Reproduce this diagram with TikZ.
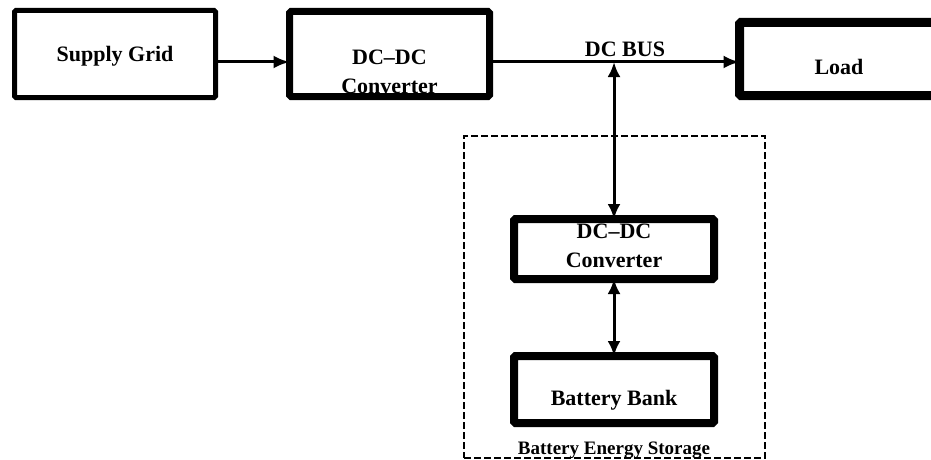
\documentclass[tikz,border=0pt]{standalone}
\usepackage{fontspec}
\setmainfont{Liberation Serif}
\usetikzlibrary{arrows.meta,calc}
\begin{document}
\begin{tikzpicture}[x=1pt,y=-1pt,
  boxA/.style={draw,line width=#1,rounded corners=1.5pt,inner sep=0pt,outer sep=0pt},
  lbl/.style={font=\bfseries\fontsize{22}{29}\selectfont,align=center,inner sep=0pt},
  arr/.style={line width=3pt,-{Latex[length=16pt,width=13pt]}},
  darr/.style={line width=3pt,{Latex[length=15pt,width=13pt]}-{Latex[length=15pt,width=13pt]}},
  dashbox/.style={draw,line width=2pt,dash pattern=on 7pt off 3pt}]
\clip (0,0) rectangle (931,460);
\fill[white] (0,0) rectangle (931,460);
% dashed storage frame
\node[dashbox,minimum width=301pt,minimum height=322pt,inner sep=0pt] (bes) at (614.5,297) {};
% boxes
\node[boxA=5pt,minimum width=201pt,minimum height=87pt] (sg) at (115,54) {};
\node[boxA=7pt,minimum width=200pt,minimum height=85pt] (dc1) at (389.5,54) {};
\node[boxA=9pt,minimum width=200pt,minimum height=73pt] (ld) at (839.5,59) {};
\node[boxA=8pt,minimum width=200pt,minimum height=60pt] (dc2) at (614,249) {};
\node[boxA=8pt,minimum width=200pt,minimum height=67pt] (bb) at (614,389.5) {};
% texts
\node[lbl] (tsg) at (115,56) {Supply Grid};
\node[lbl] (tdc1) at (389.5,72) {DC--DC\\Converter};
\node[lbl] (tld) at (839,67) {Load};
\node[lbl] (tdc2) at (614,246) {DC--DC\\Converter};
\node[lbl] (tbb) at (614,400) {Battery Bank};
\node[lbl] (tbus) at (625,49) {DC BUS};
\node[lbl,font=\bfseries\fontsize{19}{22}\selectfont] (tbes) at (614,450) {Battery Energy Storage};
% connectors
\coordinate (busy) at (0,62);
\draw[arr] (sg.east |- busy) -- (dc1.west |- busy);
\draw[arr] (dc1.east |- busy) -- (ld.west |- busy);
\coordinate (tap) at (dc2.north |- busy);
\draw[darr] (tap) -- (dc2.north);
\draw[darr] (dc2.south) -- (bb.north);
\end{tikzpicture}
\end{document}
